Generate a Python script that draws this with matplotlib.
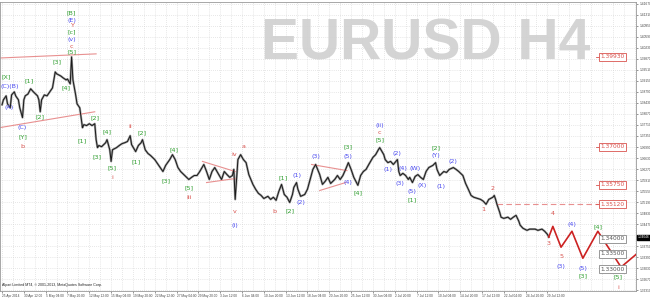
import matplotlib
matplotlib.use("Agg")
import matplotlib.pyplot as plt
import matplotlib.transforms as mtransforms

BARS_PER_LABEL = 16
SMALL_FONT = ["Liberation Sans Narrow", "Liberation Sans", "DejaVu Sans"]

# date labels on the time axis, one every 16 H4 bars
date_labels = [
    "25 Apr 2014", "30 Apr 12:00", "5 May 04:00", "7 May 20:00", "12 May 12:00",
    "15 May 04:00", "19 May 20:00", "22 May 12:00", "27 May 04:00", "29 May 20:00",
    "3 Jun 12:00", "6 Jun 04:00", "10 Jun 20:00", "13 Jun 12:00", "18 Jun 04:00",
    "20 Jun 20:00", "25 Jun 12:00", "30 Jun 04:00", "2 Jul 20:00", "7 Jul 12:00",
    "10 Jul 04:00", "14 Jul 20:00", "17 Jul 12:00", "22 Jul 04:00", "24 Jul 20:00",
    "29 Jul 12:00",
]

price_ticks = [
    1.3231, 1.3267, 1.3303, 1.3339, 1.3375, 1.3411, 1.3447, 1.3483, 1.3519,
    1.3555, 1.3591, 1.3627, 1.3663, 1.3699, 1.3735, 1.3771, 1.3807, 1.3843,
    1.3879, 1.3915, 1.3951, 1.3987, 1.4023, 1.4059, 1.4095, 1.4131, 1.4167,
]

# EURUSD H4 price path (bar index, price)
price_bars = [
    0, 1, 3, 4, 6, 7, 9, 10, 12, 13, 15, 16, 17, 19, 21, 23, 26, 27, 28, 29,
    31, 33, 35, 37, 39, 40, 43, 45, 47, 48, 50, 51, 52, 54, 55, 57, 58, 59, 60, 62,
    64, 66, 68, 69, 70, 71, 73, 76, 77, 79, 80, 81, 84, 86, 88, 90, 92, 94, 95, 98,
    100, 102, 103, 105, 107, 109, 112, 114, 116, 118, 120, 123, 125, 127, 129, 131, 134, 137, 139, 141,
    143, 145, 148, 150, 152, 154, 156, 159, 161, 163, 165, 167, 169, 170, 171, 172, 173, 175, 177, 179,
    181, 184, 186, 188, 190, 192, 195, 197, 199, 201, 203, 205, 207, 209, 211, 213, 214, 216, 217, 219,
    222, 224, 226, 228, 230, 233, 235, 237, 239, 241, 244, 246, 248, 250, 252, 254, 256, 258, 261, 263,
    265, 267, 269, 272, 274, 276, 277, 280, 281, 283, 285, 287, 290, 291, 292, 294, 296, 298, 299, 301,
    303, 305, 307, 309, 311, 313, 316, 318, 319, 321, 324, 326, 328, 331, 333, 335, 338, 340, 342, 344,
    346, 349, 351, 353, 355, 357, 360, 361, 362, 363, 365, 366, 368, 371, 373, 375, 377, 379, 380, 382,
    385, 387, 389, 391, 393, 396, 398, 400, 401,
]
price_close = [
    1.3837, 1.3853, 1.3866, 1.3840, 1.3827, 1.3869, 1.3879, 1.3866, 1.3853, 1.3827,
    1.3795, 1.3853, 1.3866, 1.3872, 1.3889, 1.3879, 1.3866, 1.3853, 1.3814, 1.3853,
    1.3869, 1.3866, 1.3879, 1.3892, 1.3944, 1.3938, 1.3931, 1.3924, 1.3918, 1.3921,
    1.3905, 1.3993, 1.3918, 1.3869, 1.3840, 1.3827, 1.3795, 1.3762, 1.3772, 1.3769,
    1.3775, 1.3769, 1.3775, 1.3723, 1.3697, 1.3704, 1.3700, 1.3713, 1.3723, 1.3690,
    1.3652, 1.3690, 1.3697, 1.3704, 1.3710, 1.3713, 1.3717, 1.3736, 1.3707, 1.3684,
    1.3704, 1.3713, 1.3723, 1.3690, 1.3678, 1.3671, 1.3658, 1.3645, 1.3632, 1.3619,
    1.3639, 1.3658, 1.3674, 1.3658, 1.3632, 1.3619, 1.3606, 1.3593, 1.3600, 1.3606,
    1.3606, 1.3619, 1.3642, 1.3619, 1.3593, 1.3619, 1.3632, 1.3609, 1.3593, 1.3619,
    1.3609, 1.3600, 1.3606, 1.3626, 1.3528, 1.3593, 1.3658, 1.3674, 1.3658, 1.3648,
    1.3609, 1.3577, 1.3561, 1.3548, 1.3541, 1.3531, 1.3538, 1.3528, 1.3535, 1.3525,
    1.3554, 1.3577, 1.3544, 1.3535, 1.3518, 1.3544, 1.3567, 1.3583, 1.3561, 1.3538,
    1.3544, 1.3561, 1.3593, 1.3626, 1.3642, 1.3609, 1.3577, 1.3587, 1.3600, 1.3580,
    1.3593, 1.3606, 1.3593, 1.3606, 1.3626, 1.3648, 1.3626, 1.3600, 1.3574, 1.3606,
    1.3619, 1.3626, 1.3642, 1.3665, 1.3674, 1.3690, 1.3697, 1.3674, 1.3658, 1.3648,
    1.3652, 1.3642, 1.3658, 1.3619, 1.3606, 1.3613, 1.3606, 1.3593, 1.3600, 1.3583,
    1.3603, 1.3609, 1.3600, 1.3593, 1.3619, 1.3632, 1.3639, 1.3648, 1.3626, 1.3606,
    1.3619, 1.3616, 1.3626, 1.3632, 1.3626, 1.3619, 1.3606, 1.3580, 1.3561, 1.3541,
    1.3535, 1.3531, 1.3528, 1.3522, 1.3512, 1.3528, 1.3535, 1.3541, 1.3528, 1.3512,
    1.3486, 1.3470, 1.3466, 1.3470, 1.3463, 1.3470, 1.3476, 1.3457, 1.3444, 1.3434,
    1.3427, 1.3431, 1.3431, 1.3431, 1.3427, 1.3431, 1.3424, 1.3414, 1.3405,
]
last_price = 1.34046

# projected wave path
forecast_bars = [401, 404, 410, 418, 426, 437, 454, 474]
forecast_price = [1.3405, 1.3440, 1.3372, 1.3424, 1.3336, 1.3424, 1.3307, 1.3382]

# target / support levels shown in boxes at the right
red_levels = [1.3993, 1.3700, 1.3575, 1.3512]
gray_levels = [1.3400, 1.3350, 1.3300]
dashed_level = 1.3512
dashed_level_bars = [363, 437]

# channel and triangle lines (bar0, price0, bar1, price1)
trend_lines = [
    (-2, 1.39895, 69, 1.4003),
    (-2, 1.3762, 68, 1.3814),
    (147, 1.3652, 171, 1.3619),
    (150, 1.3583, 171, 1.3596),
    (227, 1.3642, 253, 1.3622),
    (233, 1.3557, 252, 1.3583),
]

# wave labels (bar, price, text)
green_labels = [
    (51, 1.4136, "[B]"), (51, 1.4074, "[c]"), (51, 1.4009, "[5]"), (3, 1.3928, "[X]"),
    (20, 1.3915, "[1]"), (28, 1.3798, "[2]"), (40, 1.3977, "[3]"), (47, 1.3892, "[4]"),
    (15, 1.3733, "[Y]"), (68, 1.3795, "[2]"), (59, 1.3720, "[1]"), (77, 1.3749, "[4]"),
    (70, 1.3668, "[3]"), (81, 1.3632, "[5]"), (98, 1.3652, "[1]"), (103, 1.3746, "[2]"),
    (126, 1.3691, "[4]"), (120, 1.3590, "[3]"), (137, 1.3567, "[5]"), (206, 1.3600, "[1]"),
    (211, 1.3492, "[2]"), (254, 1.3700, "[3]"), (261, 1.3551, "[4]"), (277, 1.3723, "[5]"),
    (301, 1.3528, "[1]"), (318, 1.3697, "[2]"), (426, 1.3278, "[3]"), (437, 1.3440, "[4]"),
    (452, 1.3275, "[5]"),
]
blue_labels = [
    (51, 1.4113, "(E)"), (51, 1.4051, "(v)"), (6, 1.3898, "(C)(B)"), (5, 1.3827, "(A)"),
    (15, 1.3762, "(C)"), (171, 1.3443, "(i)"), (216, 1.3606, "(1)"), (219, 1.3518, "(2)"),
    (230, 1.3668, "(3)"), (254, 1.3668, "(5)"), (254, 1.3583, "(4)"), (277, 1.3768, "(ii)"),
    (283, 1.3626, "(1)"), (290, 1.3678, "(2)"), (292, 1.3580, "(3)"), (294, 1.3629, "(4)"),
    (301, 1.3554, "(5)"), (303, 1.3629, "(W)"), (308, 1.3574, "(X)"), (318, 1.3671, "(Y)"),
    (322, 1.3570, "(1)"), (331, 1.3652, "(2)"), (410, 1.3310, "(3)"), (418, 1.3447, "(4)"),
    (426, 1.3304, "(5)"),
]
red_labels = [
    (51, 1.4097, "Y"), (51, 1.4028, "c"), (15, 1.3700, "b"), (94, 1.3765, "ii"),
    (81, 1.3600, "i"), (137, 1.3535, "iii"), (170, 1.3674, "iv"), (171, 1.3489, "v"),
    (177, 1.3700, "a"), (200, 1.3489, "b"), (277, 1.3746, "c"), (353, 1.3496, "1"),
    (360, 1.3564, "2"), (401, 1.3385, "3"), (404, 1.3483, "4"), (410, 1.3343, "5"),
    (452, 1.3242, "i"),
]

RED = "#d9534f"
GREEN = "#2e9e2e"
BLUE = "#4b4bf0"
LINE_RED = "#e89090"


def main():
    fig = plt.figure(figsize=(6.5, 3), dpi=100)
    ax = fig.add_axes([0.0, 0.03, 0.9785, 0.963])

    ax.set_xlim(-1.5, 465)
    ax.set_ylim(1.3229, 1.4172)

    # watermark
    ax.text(311, 1.4032, "EURUSD H4", fontsize=41, fontweight="bold",
            family="Liberation Sans", color="#d4d4d4", ha="center", va="center", zorder=0)

    # axes, ticks and grid
    ax.set_xticks(range(0, 466, BARS_PER_LABEL // 2), minor=True)
    ax.set_xticks([i * BARS_PER_LABEL for i in range(len(date_labels))])
    ax.set_xticklabels(date_labels, fontsize=2.3, ha="left", family=SMALL_FONT)
    ax.set_yticks(price_ticks)
    # the tick hidden behind the current price tag gets no label
    ax.set_yticklabels(["" if abs(v - last_price) < 0.0015 else f"{v:.5f}" for v in price_ticks],
                       fontsize=2.3, family=SMALL_FONT)
    ax.yaxis.tick_right()
    ax.tick_params(axis="both", length=1.5, width=0.4, pad=0.8, colors="#444444")
    ax.tick_params(axis="x", which="minor", length=0)
    ax.grid(True, which="both", linestyle=(0, (1, 2)), linewidth=0.5, color="#d0d0d0")
    for s in ax.spines.values():
        s.set_color("#999999")
        s.set_linewidth(0.6)

    # price
    ax.plot(price_bars, price_close, color="#a0a0a0", linewidth=1.6, zorder=2)
    ax.plot(price_bars, price_close, color="#1a1a1a", linewidth=0.7, zorder=3)

    # channels / triangles
    for b0, p0, b1, p1 in trend_lines:
        ax.plot([b0, b1], [p0, p1], color=LINE_RED, linewidth=0.8, zorder=2)
    ax.plot(dashed_level_bars, [dashed_level, dashed_level], color=LINE_RED,
            linewidth=0.8, linestyle=(0, (5, 3)), zorder=2)

    # projection
    ax.plot(forecast_bars, forecast_price, color="#cc2222", linewidth=1.2, zorder=4)

    # level boxes
    for lvl in red_levels:
        ax.plot([436, 439], [lvl, lvl], color=RED, linewidth=0.6, zorder=4)
        ax.text(447.5, lvl, f"{lvl:.5f}", fontsize=4.2, color=RED, ha="center", va="center",
                zorder=5, bbox=dict(boxstyle="square,pad=0.25", fc="white", ec=RED, lw=0.6))
    for lvl in gray_levels:
        ax.text(447.5, lvl, f"{lvl:.5f}", fontsize=4.2, color="#555555", ha="center", va="center",
                zorder=5, bbox=dict(boxstyle="square,pad=0.25", fc="white", ec="#888888", lw=0.6))

    # wave labels
    for labels, col in ((green_labels, GREEN), (blue_labels, BLUE), (red_labels, RED)):
        for b, p, t in labels:
            ax.text(b, p, t, fontsize=4.6, color=col, ha="center", va="center", zorder=6)

    # current price tag
    trans = mtransforms.blended_transform_factory(ax.transAxes, ax.transData)
    ax.text(1.002, last_price, f"{last_price:.5f}", transform=trans, fontsize=2.3,
            family=SMALL_FONT, color="white", ha="left", va="center", clip_on=False,
            bbox=dict(boxstyle="square,pad=0.2", fc="black", ec="black"))

    ax.text(0.003, 0.015, "Alpari Limited MT4, \u00a9 2001-2013, MetaQuotes Software Corp.",
            transform=ax.transAxes, fontsize=2.6, family=SMALL_FONT, color="#222222",
            ha="left", va="bottom")

    fig.savefig("out.png", dpi=100)


if __name__ == "__main__":
    main()
